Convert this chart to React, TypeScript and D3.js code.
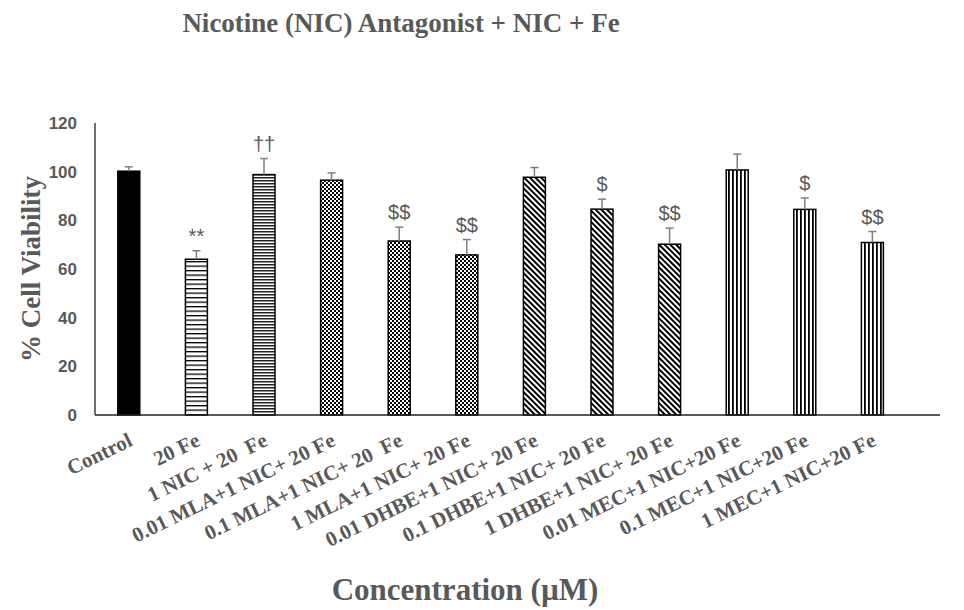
import React from 'react';
import * as d3 from 'd3';

// chart values
const categories = [
  'Control',
  '20 Fe',
  '1 NIC + 20  Fe',
  '0.01 MLA+1 NIC+ 20 Fe',
  '0.1 MLA+1 NIC+ 20  Fe',
  '1 MLA+1 NIC+ 20 Fe',
  '0.01 DHBE+1 NIC+ 20 Fe',
  '0.1 DHBE+1 NIC+ 20 Fe',
  '1 DHBE+1 NIC+ 20 Fe',
  '0.01 MEC+1 NIC+20 Fe',
  '0.1 MEC+1 NIC+20 Fe',
  '1 MEC+1 NIC+20 Fe',
];
const viability = [100.2, 64, 98.8, 96.5, 71.5, 65.8, 97.7, 84.6, 70.2, 100.7, 84.5, 70.9];
const errorUp = [1.8, 3.5, 6.6, 3, 5.7, 6.3, 4, 4.1, 6.6, 6.5, 4.7, 4.5];
const marks = ['', '**', '††', '', '$$', '$$', '', '$', '$$', '', '$', '$$'];
const fills = ['solid', 'hwide', 'hnarrow', 'checker', 'checker', 'checker', 'diag', 'diag', 'diag', 'vert', 'vert', 'vert'];
const yTicks = [0, 20, 40, 60, 80, 100, 120];

const W = 964;
const H = 610;
const left = 95;
const bottom = 415;
const top = 123;
const grey = '#595959';
const serif = '"Liberation Serif", "Times New Roman", serif';
const sans = '"Liberation Sans", Arial, sans-serif';

export default function App() {
  const x = d3.scaleBand<string>()
    .domain(categories)
    .range([left, left + 12 * 67.6])
    .paddingInner(0.675)
    .paddingOuter(0.3375);
  const y = d3.scaleLinear().domain([0, 120]).range([bottom, top]);
  const bw = x.bandwidth();

  const fillFor = (f: string) => (f === 'solid' ? '#000' : `url(#${f})`);

  return (
    <svg width={W} height={H} style={{ position: 'absolute', left: 0, top: 0, background: '#fff' }}>
      <defs>
        <pattern id="hwide" width={4} height={4.5} patternUnits="userSpaceOnUse">
          <rect width={4} height={4.5} fill="#fff" />
          <rect width={4} height={1.3} fill="#000" />
        </pattern>
        <pattern id="hnarrow" width={4} height={3} patternUnits="userSpaceOnUse">
          <rect width={4} height={3} fill="#fff" />
          <rect width={4} height={1.5} fill="#222" />
        </pattern>
        <pattern id="checker" width={4} height={4} patternUnits="userSpaceOnUse">
          <rect width={4} height={4} fill="#fff" />
          <rect width={2} height={2} fill="#000" />
          <rect x={2} y={2} width={2} height={2} fill="#000" />
        </pattern>
        <pattern id="diag" width={4} height={4} patternUnits="userSpaceOnUse" patternTransform="rotate(-45)">
          <rect width={4} height={4} fill="#fff" />
          <rect width={2} height={4} fill="#000" />
        </pattern>
        <pattern id="vert" width={4} height={4} patternUnits="userSpaceOnUse">
          <rect width={4} height={4} fill="#fff" />
          <rect width={1.8} height={4} fill="#000" />
        </pattern>
      </defs>

      {/* title */}
      <text x={401} y={32} textAnchor="middle" fontFamily={serif} fontWeight="bold" fontSize={27} fill={grey}>
        Nicotine (NIC) Antagonist + NIC + Fe
      </text>

      {/* y axis */}
      <line x1={left} x2={left} y1={top} y2={bottom} stroke="#222" strokeWidth={1.3} />
      {yTicks.map((t) => (
        <text key={t} x={77} y={y(t)} dy="0.35em" textAnchor="end" fontFamily={sans} fontWeight="bold" fontSize={17} fill={grey}>
          {t}
        </text>
      ))}
      <text
        transform={`translate(40,${(top + bottom) / 2}) rotate(-90)`}
        textAnchor="middle"
        fontFamily={serif}
        fontWeight="bold"
        fontSize={27}
        fill={grey}
      >
        % Cell Viability
      </text>

      {/* bars */}
      {categories.map((c, i) => {
        const x0 = x(c) as number;
        const cx = x0 + bw / 2;
        const yTop = y(viability[i]);
        const yErr = y(viability[i] + errorUp[i]);
        return (
          <g key={c}>
            <rect x={x0} y={yTop} width={bw} height={bottom - yTop} fill={fillFor(fills[i])} stroke="#000" strokeWidth={1.5} />
            <line x1={cx} x2={cx} y1={yTop} y2={yErr} stroke="#7f7f7f" strokeWidth={1.5} />
            <line x1={cx - 4} x2={cx + 4} y1={yErr} y2={yErr} stroke="#7f7f7f" strokeWidth={1.5} />
            {marks[i] && (
              <text x={cx} y={yErr - 8} textAnchor="middle" fontFamily={sans} fontSize={20} fill={grey}>
                {marks[i]}
              </text>
            )}
          </g>
        );
      })}

      {/* x axis */}
      <line x1={left} x2={940} y1={bottom} y2={bottom} stroke="#222" strokeWidth={1.3} />
      {categories.map((c) => {
        const cx = (x(c) as number) + bw / 2;
        return (
          <text
            key={c}
            transform={`translate(${cx + 5},${bottom + 30}) rotate(-26)`}
            textAnchor="end"
            fontFamily={serif}
            fontWeight="bold"
            fontSize={21}
            fill={grey}
            style={{ whiteSpace: 'pre' }}
          >
            {c}
          </text>
        );
      })}
      <text x={465} y={600} textAnchor="middle" fontFamily={serif} fontWeight="bold" fontSize={31} fill={grey}>
        Concentration (µM)
      </text>
    </svg>
  );
}
